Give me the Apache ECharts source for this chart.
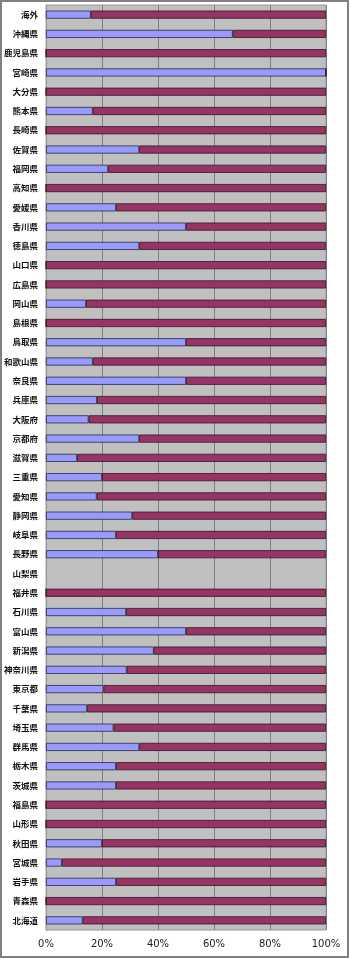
<!DOCTYPE html>
<html><head><meta charset="utf-8">
<script src="https://cdn.jsdelivr.net/npm/echarts@6/dist/echarts.min.js"></script>
<style>html,body{margin:0;padding:0;background:#fff}#c{width:350px;height:959px}</style>
</head><body><div id="c"></div>
<script>
const categories = ['海外','沖縄県','鹿児島県','宮崎県','大分県','熊本県','長崎県','佐賀県','福岡県','高知県','愛媛県','香川県','徳島県','山口県','広島県','岡山県','島根県','鳥取県','和歌山県','奈良県','兵庫県','大阪府','京都府','滋賀県','三重県','愛知県','静岡県','岐阜県','長野県','山梨県','福井県','石川県','富山県','新潟県','神奈川県','東京都','千葉県','埼玉県','群馬県','栃木県','茨城県','福島県','山形県','秋田県','宮城県','岩手県','青森県','北海道'];
const series1 = [16,66.7,0,100,0,16.7,0,33.3,22.2,0,25,50,33.3,0,0,14.3,0,50,16.7,50,18.2,15.2,33.3,11.1,20,18.1,30.8,25,40,null,0,28.6,50,38.5,28.8,20.5,14.7,24.1,33.3,25,25,0,0,20,5.7,25,0,13.1];
const series2 = [84,33.3,100,0,100,83.3,100,66.7,77.8,100,75,50,66.7,100,100,85.7,100,50,83.3,50,81.8,84.8,66.7,88.9,80,81.9,69.2,75,60,null,100,71.4,50,61.5,71.2,79.5,85.3,75.9,66.7,75,75,100,100,80,94.3,75,100,86.9];
const xTicks = [0,20,40,60,80,100];

const chart = echarts.init(document.getElementById('c'), null, {renderer:'canvas'});
chart.setOption({
  animation:false,
  backgroundColor:'#fff',
  graphic:[{type:'rect',shape:{x:1,y:1,width:347,height:956},style:{fill:'none',stroke:'#808080',lineWidth:2},z:100}],
  grid:{left:46,right:24,top:5,bottom:29,show:true,backgroundColor:'#C0C0C0',borderColor:'#9a9a9a',borderWidth:1},
  xAxis:{type:'value',min:xTicks[0],max:xTicks[xTicks.length-1],interval:20,
    axisLine:{show:false},axisTick:{show:false},
    axisLabel:{formatter:'{value}%',color:'#222',fontSize:10,fontFamily:'DejaVu Sans',margin:9},
    splitLine:{show:true,lineStyle:{color:'#808080',width:1}}},
  yAxis:{type:'category',data:categories,inverse:true,
    axisLine:{show:true,lineStyle:{color:'#9a9a9a'}},
    axisTick:{show:true,inside:true,length:2,lineStyle:{color:'#a8a8a8'}},
    axisLabel:{color:'#111',fontSize:8.5,fontFamily:'Noto Sans CJK JP',fontWeight:'bold',margin:8}},
  series:[
    {name:'系列1',type:'bar',stack:'a',data:series1,barWidth:'42%',
      itemStyle:{color:'#9999FF',borderColor:'#2a2a3a',borderWidth:0.8}},
    {name:'系列2',type:'bar',stack:'a',data:series2,barWidth:'42%',
      itemStyle:{color:'#993366',borderColor:'#2a1a22',borderWidth:0.8}}
  ]
});
</script></body></html>
